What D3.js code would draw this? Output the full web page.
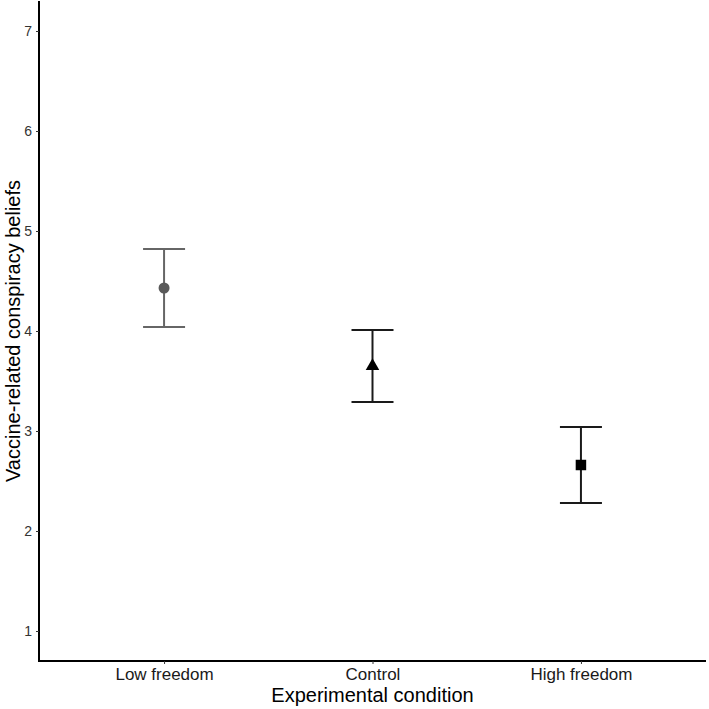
<!DOCTYPE html>
<html><head><meta charset="utf-8">
<script src="https://cdn.jsdelivr.net/npm/d3@7"></script>
<style>body{margin:0;background:#fff}</style>
</head><body>
<script>
const categories = ["Low freedom", "Control", "High freedom"];
const means = [4.43, 3.65, 2.66];
const lower = [4.04, 3.29, 2.28];
const upper = [4.82, 4.01, 3.04];
const shapes = ["circle", "triangle", "square"];
const colors = ["#595959", "#000000", "#000000"];
const barColors = ["#666666", "#1a1a1a", "#1a1a1a"];
const yTicks = [1, 2, 3, 4, 5, 6, 7];

const W = 709, H = 709;
const m = {left: 39, right: 3, top: 1, bottom: 48};
const FONT = "Liberation Sans, Arial, sans-serif";
const svg = d3.select("body").append("svg").attr("width", W).attr("height", H);

const x = d3.scalePoint().domain(categories).range([m.left, W - m.right]).padding(0.6);
const y = d3.scaleLinear().domain([0.7, 7.3]).range([H - m.bottom, m.top]);

const data = categories.map((c, i) => ({c, m: means[i], lo: lower[i], hi: upper[i], s: shapes[i], col: colors[i], bc: barColors[i]}));

// axes
const yAxis = svg.append("g").attr("transform", `translate(${m.left},0)`)
  .call(d3.axisLeft(y).tickValues(yTicks).tickFormat(d3.format("d")).tickSize(3).tickPadding(4).tickSizeOuter(0));
const xAxis = svg.append("g").attr("transform", `translate(0,${H - m.bottom})`)
  .call(d3.axisBottom(x).tickSize(3).tickPadding(4).tickSizeOuter(0));
[yAxis, xAxis].forEach(a => {
  a.select(".domain").attr("stroke", "#000").attr("stroke-width", 2);
  a.selectAll(".tick line").attr("stroke", "#333").attr("stroke-width", 1);
  a.selectAll(".tick text").style("font-family", FONT);
});
yAxis.selectAll(".tick text").attr("fill", "#333").style("font-size", "14px");
xAxis.selectAll(".tick text").attr("fill", "#1a1a1a").style("font-size", "17px");
yAxis.select(".domain").attr("d", `M0,${H - m.bottom + 1}V${m.top}`);
xAxis.select(".domain").attr("d", `M${m.left - 1},0H${W - m.right}`);

// error bars
const capW = 21;
const g = svg.append("g");
data.forEach(d => {
  const cx = x(d.c);
  g.append("line").attr("x1", cx).attr("x2", cx).attr("y1", y(d.lo)).attr("y2", y(d.hi)).attr("stroke", d.bc).attr("stroke-width", 2);
  g.append("line").attr("x1", cx - capW).attr("x2", cx + capW).attr("y1", y(d.lo)).attr("y2", y(d.lo)).attr("stroke", d.bc).attr("stroke-width", 2);
  g.append("line").attr("x1", cx - capW).attr("x2", cx + capW).attr("y1", y(d.hi)).attr("y2", y(d.hi)).attr("stroke", d.bc).attr("stroke-width", 2);
  const sym = d.s === "circle" ? d3.symbolCircle : d.s === "triangle" ? d3.symbolTriangle : d3.symbolSquare;
  const size = d.s === "circle" ? 95 : d.s === "triangle" ? 80 : 110;
  g.append("path").attr("d", d3.symbol().type(sym).size(size)()).attr("transform", `translate(${cx},${y(d.m)})`).attr("fill", d.col);
});

// titles
svg.append("text").attr("x", (m.left + W - m.right) / 2).attr("y", 702).attr("text-anchor", "middle")
  .style("font-family", FONT).style("font-size", "20px").attr("fill", "#000").text("Experimental condition");
svg.append("text").attr("transform", `translate(20,${(m.top + H - m.bottom) / 2}) rotate(-90)`).attr("text-anchor", "middle")
  .style("font-family", FONT).style("font-size", "20px").attr("fill", "#000").text("Vaccine-related conspiracy beliefs");
</script>
</body></html>
